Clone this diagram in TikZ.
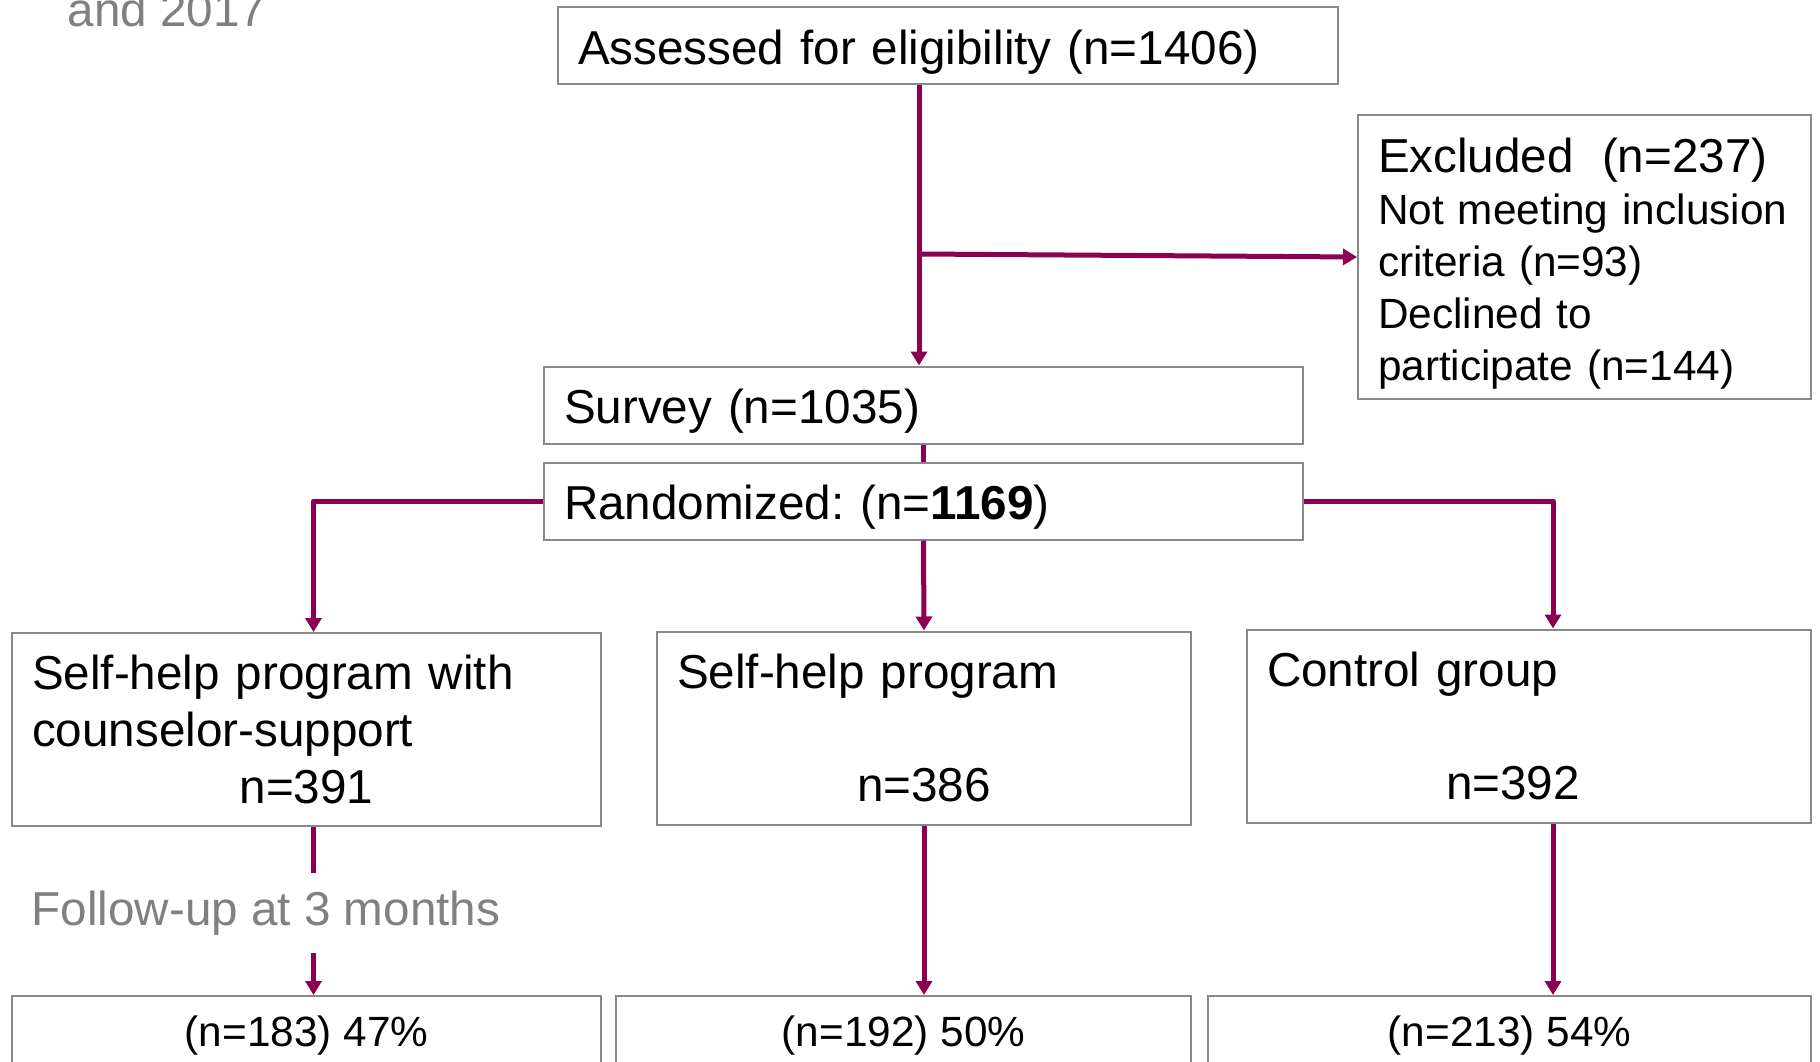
\documentclass[tikz,border=0pt]{standalone}
\usepackage{fontspec}
\setmainfont{Liberation Sans}
\usetikzlibrary{arrows.meta,calc}
\frenchspacing

\definecolor{plum}{RGB}{140,0,84}
\definecolor{boxgray}{RGB}{137,137,137}
\definecolor{txtgray}{RGB}{128,128,128}

\tikzset{
	box/.style={draw=boxgray, line width=0.02cm, inner xsep=0.2cm, inner ysep=0pt, align=left, font=\fontsize{13.55}{16.2}\selectfont},
	linebox/.style={box, text height=0.47cm, text depth=0.10cm},
	smallbox/.style={box, align=center, font=\fontsize{12.04}{14.8}\selectfont},
	flow/.style={-{Triangle[width=0.16cm,length=0.14cm]}, color=plum, line width=0.05cm, line join=round},
	flowline/.style={-, color=plum, line width=0.05cm},
}

\begin{document}
\begin{tikzpicture}
	%Sizes - 1 px of the slide is 0.01 cm%
	%===========================================================
	\def \Hone {0.77cm}; %Height of the one line boxes
	\def \Hgrp {1.93cm}; %Height of the group boxes
	\def \Hout {0.80cm}; %Height of the follow-up boxes (cut at the bottom)
	\clip (0,0) rectangle (18.2,-10.62); %Slide area
	%Top part%
	%===========================================================
	\node[anchor=base west, color=txtgray, font=\fontsize{13.55}{16.2}\selectfont, inner sep=0pt] (year) at (0.67,-0.26) {and 2017}; %Rest of the title
	\node[linebox, text width=7.40cm, minimum height=\Hone] (assess) at (9.48,-0.455) {Assessed for eligibility (n=1406)};
	\node[box, text width=4.13cm, minimum height=2.84cm, text height=0.47cm, font=\fontsize{12.04}{14.8}\selectfont] (excl) at (15.845,-2.57)
		{{\fontsize{13.55}{14.8}\selectfont Excluded\ \ (n=237)}\\Not meeting inclusion\\criteria (n=93)\\Declined to\\participate (n=144)};
	\node[linebox, text width=7.19cm, minimum height=\Hone] (survey) at (9.235,-4.05) {Survey (n=1035)};
	\node[linebox, text width=7.19cm, minimum height=\Hone] (rand) at (9.235,-5.01) {Randomized: (n=\textbf{1169})};
	%Groups%
	%===========================================================
	\node[box, text width=5.49cm, minimum height=\Hgrp] (grp_a) at (3.065,-7.295)
		{Self-help program with\\counselor-support\\\makebox[\linewidth]{n=391}};
	\node[box, text width=4.94cm, minimum height=\Hgrp] (grp_b) at (9.24,-7.28)
		{Self-help program\\\mbox{}\\\makebox[\linewidth]{n=386}};
	\node[box, text width=5.24cm, minimum height=\Hgrp] (grp_c) at (15.29,-7.26)
		{Control group\\\mbox{}\\\makebox[\linewidth]{n=392\hspace{0.32cm}}};
	\node[anchor=base west, color=txtgray, font=\fontsize{13.55}{16.2}\selectfont, inner xsep=0pt, inner ysep=0.17cm] (followup) at (0.31,-9.25) {Follow-up at 3 months};
	%Follow-up boxes%
	\node[smallbox, minimum width=5.89cm, minimum height=\Hout] (out_a) at (3.065,-10.36) {(n=183) 47\%};
	\node[smallbox, minimum width=5.75cm, minimum height=\Hout] (out_b) at (9.035,-10.36) {(n=192) 50\%};
	\node[smallbox, minimum width=6.03cm, minimum height=\Hout] (out_c) at (15.095,-10.36) {(n=213) 54\%};
	%Connectors%
	%===========================================================
	\coordinate (col_s) at ([xshift=-0.045cm]survey.north); %Line from the assessed box
	\coordinate (split) at (9.19,-2.54); %Branch to the excluded box
	\coordinate (col_a) at ([xshift=0.07cm]grp_a.north); %Line of the counselor group
	\coordinate (col_c) at ([xshift=0.24cm]grp_c.north); %Line of the control group
	\draw[flow] (col_s |- assess.south) -- (col_s); %Assessed to survey
	\draw[flow] (split) -- (excl.west); %Excluded
	\draw[flowline] (survey.south) -- (rand.north);
	\draw[flow] (rand.west) -| (col_a);
	\draw[flow] (rand.south) -- (grp_b.north);
	\draw[flow] (rand.east) -| (col_c);
	\draw[flowline] (col_a |- grp_a.south) -- (col_a |- followup.north); %Broken by the follow-up text
	\draw[flow] (col_a |- followup.south) -- (col_a |- out_a.north);
	\draw[flow] (grp_b.south) -- (grp_b.south |- out_b.north);
	\draw[flow] (col_c |- grp_c.south) -- (col_c |- out_c.north);
\end{tikzpicture}
\end{document}
